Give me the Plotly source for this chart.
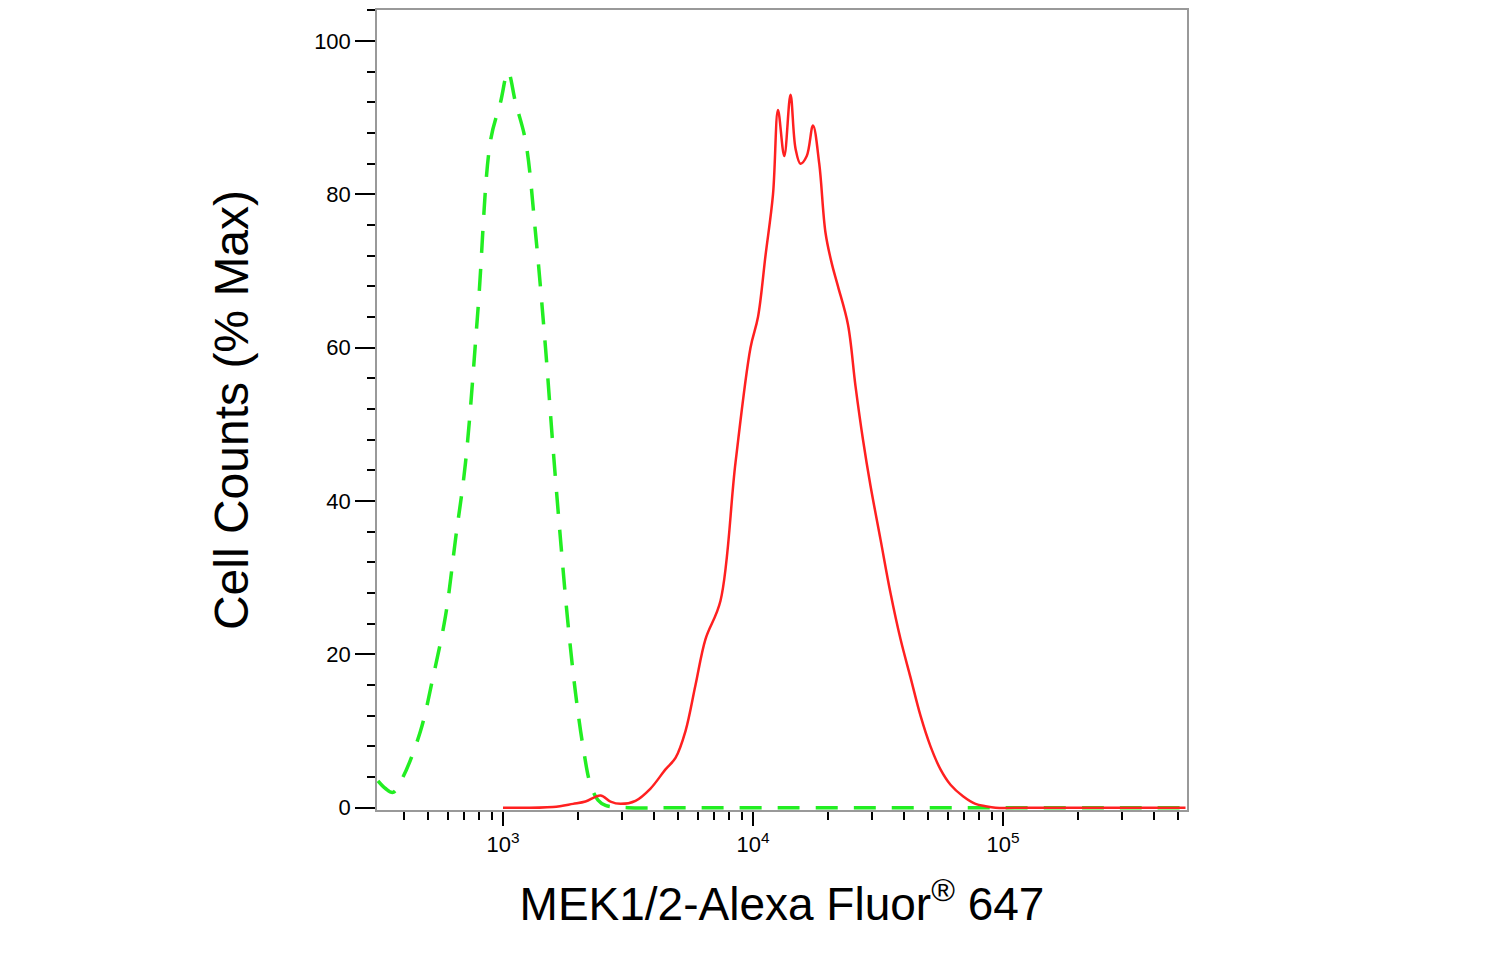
import plotly.graph_objects as go

green_logx = [2.50,2.53,2.56,2.60,2.67,2.72,2.77,2.81,2.85,2.90,2.95,2.99,3.02,3.05,3.09,3.13,3.17,3.20,3.23,3.26,3.29,3.32,3.35,3.38,3.41,3.5,3.7,4.0,4.5,5.0,5.5,5.73]
green_y =    [3.5, 2.5, 2.0, 4.0, 10,  17,  25,  35,  45,  65,  87,  92,  96,  92,  87,  75,  60,  47,  35,  24,  15,  8,   3,   1,   0.3, 0,  0,  0,  0,  0,  0,  0]

red_logx = [3.0,3.2,3.28,3.33,3.39,3.43,3.47,3.53,3.59,3.65,3.69,3.73,3.77,3.81,3.87,3.93,3.99,4.02,4.05,4.08,4.10,4.125,4.15,4.17,4.19,4.215,4.24,4.265,4.29,4.315,4.34,4.38,4.41,4.44,4.47,4.51,4.55,4.59,4.63,4.67,4.71,4.75,4.79,4.84,4.89,4.93,4.97,5.1,5.4,5.73]
red_y =    [0,  0.1,0.5, 0.8, 1.6, 0.8, 0.5, 0.9, 2.5, 5,   6.5, 10,  16,  22,  27,  45,  60,  64,  72,  80,  91,  85,   93,  86,  84,  85,  89,  84,  75,  71,  68,  63,  55,  48,  42,  35,  28,  22,  17,  12,  8,  5,  3,  1.5, 0.5, 0.2, 0, 0, 0, 0]

xtick_vals = [1e3, 1e4, 1e5]
xtick_text = ["10<sup>3</sup>", "10<sup>4</sup>", "10<sup>5</sup>"]
ytick_vals = [0, 20, 40, 60, 80, 100]

minor_x = [m * 10**e for e in [2, 3, 4, 5] for m in range(2, 10) if 313 < m * 10**e < 545000]

fig = go.Figure()
fig.add_trace(go.Scatter(x=[10**v for v in green_logx], y=green_y, mode="lines",
                         line=dict(color="#22ee22", width=3.5, dash="22px,16px", shape="spline")))
fig.add_trace(go.Scatter(x=[10**v for v in red_logx], y=red_y, mode="lines",
                         line=dict(color="#ff2020", width=2.5, shape="spline")))

fig.update_layout(
    width=1494, height=955, showlegend=False,
    plot_bgcolor="white", paper_bgcolor="white",
    margin=dict(l=369, r=315, t=2, b=153, autoexpand=False),
    font=dict(family="Liberation Sans, Arial", color="black"),
    xaxis=dict(type="log", range=[2.496, 5.736], tickvals=xtick_vals, ticktext=xtick_text,
               ticks="outside", ticklen=14, tickwidth=2, tickcolor="black",
               tickfont=dict(size=22), showgrid=False, zeroline=False,
               showline=True, linecolor="#999", linewidth=1.5, mirror=True,
               minor=dict(tickvals=minor_x, ticks="outside", ticklen=8, tickwidth=2, tickcolor="black"),
               title=dict(text="MEK1/2-Alexa Fluor<sup>®</sup> 647", font=dict(size=46), standoff=32)),
    yaxis=dict(range=[-0.3, 104.05], tickvals=ytick_vals, ticks="outside", ticklen=20, tickwidth=2,
               tickcolor="black", tickfont=dict(size=22), showgrid=False, zeroline=False,
               showline=True, linecolor="#999", linewidth=1.5, mirror=True,
               minor=dict(dtick=4, ticks="outside", ticklen=8, tickwidth=2, tickcolor="black"),
               title=dict(text="Cell Counts (% Max)", font=dict(size=48), standoff=50)),
)
fig.write_html("out.html")
